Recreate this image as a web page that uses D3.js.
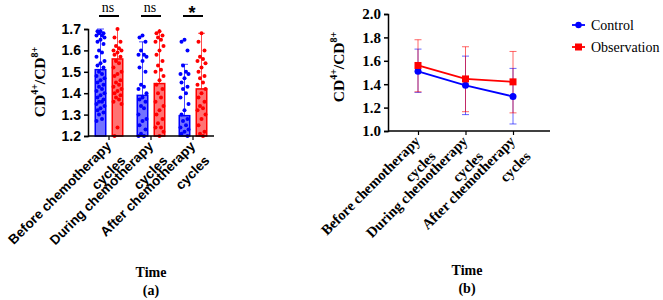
<!DOCTYPE html>
<html>
<head>
<meta charset="utf-8">
<script src="https://cdn.jsdelivr.net/npm/d3@7"></script>
<style>
  body { margin: 0; background: #fff; }
  svg { display: block; }
</style>
</head>
<body>
<svg id="chart" width="663" height="300"></svg>
<script>
// groups and series
const groups = ['Before chemotherapy|cycles', 'During chemotherapy|cycles', 'After chemotherapy|cycles']
const seriesNames = ['Control', 'Observation']
const colors = { Control: '#0000ff', Observation: '#ff0000' }

// means and SD ends
const controlMean = [1.51, 1.39, 1.295]
const controlHigh = [1.70, 1.64, 1.535]
const controlLow = [1.33, 1.14, 1.06]
const obsMean = [1.56, 1.445, 1.42]
const obsHigh = [1.78, 1.72, 1.68]
const obsLow = [1.335, 1.165, 1.155]

// individual points (panel a)
const controlPoints = [
  [1.69, 1.69, 1.68, 1.68, 1.67, 1.67, 1.66, 1.65, 1.64, 1.63, 1.60, 1.59, 1.57, 1.55, 1.54, 1.53, 1.52, 1.50, 1.49, 1.48, 1.47, 1.46, 1.45, 1.44, 1.43, 1.42, 1.41, 1.40, 1.39, 1.38, 1.37, 1.36, 1.36, 1.35, 1.34, 1.33, 1.32, 1.31, 1.30, 1.28, 1.27],
  [1.67, 1.66, 1.64, 1.60, 1.58, 1.58, 1.57, 1.55, 1.52, 1.50, 1.44, 1.43, 1.42, 1.40, 1.38, 1.37, 1.36, 1.34, 1.33, 1.30, 1.28, 1.27, 1.25, 1.23, 1.21, 1.20, 1.20],
  [1.65, 1.64, 1.60, 1.53, 1.50, 1.49, 1.49, 1.47, 1.45, 1.43, 1.42, 1.40, 1.38, 1.35, 1.32, 1.30, 1.28, 1.27, 1.25, 1.24, 1.23, 1.22, 1.21, 1.20]
]
const obsPoints = [
  [1.70, 1.66, 1.64, 1.62, 1.61, 1.60, 1.60, 1.59, 1.58, 1.57, 1.55, 1.54, 1.52, 1.50, 1.49, 1.48, 1.46, 1.45, 1.44, 1.43, 1.42, 1.41, 1.40, 1.39, 1.38, 1.37, 1.36, 1.35, 1.24, 1.20],
  [1.69, 1.68, 1.67, 1.66, 1.65, 1.64, 1.62, 1.60, 1.58, 1.55, 1.53, 1.51, 1.50, 1.48, 1.46, 1.44, 1.42, 1.40, 1.38, 1.36, 1.34, 1.32, 1.30, 1.28, 1.26, 1.24, 1.24, 1.22, 1.20],
  [1.68, 1.64, 1.60, 1.57, 1.56, 1.55, 1.54, 1.52, 1.50, 1.48, 1.47, 1.45, 1.44, 1.42, 1.40, 1.38, 1.36, 1.34, 1.33, 1.32, 1.30, 1.28, 1.25, 1.22, 1.21, 1.20]
]
const signif = ['ns', 'ns', '*']

const yTicksA = [1.2, 1.3, 1.4, 1.5, 1.6, 1.7]
const yTicksB = [1.0, 1.2, 1.4, 1.6, 1.8, 2.0]

const svg = d3.select('#chart')
const SANS = 'Arial, "Liberation Sans", sans-serif'
const SERIF = '"Times New Roman", "Liberation Serif", serif'

// y title with superscripts
function yTitle(g, x, y) {
  const t = g.append('text')
    .attr('transform', `translate(${x},${y}) rotate(-90)`)
    .attr('text-anchor', 'middle')
    .attr('font-family', SERIF)
    .attr('font-weight', 'bold')
    .attr('font-size', 15.5)
  t.append('tspan').text('CD')
  t.append('tspan').attr('font-size', 10).attr('dy', -7).text('4+')
  t.append('tspan').attr('dy', 7).text('/CD')
  t.append('tspan').attr('font-size', 10).attr('dy', -7).text('8+')
}

function xLabels(g, x, y0, font, size) {
  groups.forEach(d => {
    const parts = d.split('|')
    const t = g.append('text')
      .attr('transform', `translate(${x(d) + 3},${y0 + 11}) rotate(-45)`)
      .attr('text-anchor', 'end')
      .attr('font-family', font)
      .attr('font-weight', 'bold')
      .attr('font-size', size)
    t.append('tspan').attr('x', 0).attr('y', 0).text(parts[0])
    t.append('tspan').attr('x', 0).attr('y', 0).attr('dy', '1.5em').text(parts[1])
  })
}

// ---------- panel (a) ----------
{
  const g = svg.append('g')
  const x = d3.scaleBand().domain(groups).range([88, 214])
  const cx = d => x(d) + x.bandwidth() / 2
  const y = d3.scaleLinear().domain([1.2, 1.7]).range([136, 29])
  const clampY = v => y(Math.min(1.7, Math.max(1.2, v)))
  const barW = 10.5, off = 8.5

  const series = [
    { name: 'Control', mean: controlMean, high: controlHigh, pts: controlPoints, dx: -off },
    { name: 'Observation', mean: obsMean, high: obsHigh, pts: obsPoints, dx: off }
  ]

  series.forEach(s => {
    const col = colors[s.name]
    groups.forEach((gr, i) => {
      const bx = cx(gr) + s.dx
      g.append('rect')
        .attr('x', bx - barW / 2).attr('width', barW)
        .attr('y', y(s.mean[i])).attr('height', y(1.2) - y(s.mean[i]))
        .attr('fill', col).attr('fill-opacity', 0.55)
        .attr('stroke', col).attr('stroke-width', 1.5)
      // SD whisker
      g.append('line')
        .attr('x1', bx).attr('x2', bx)
        .attr('y1', y(s.mean[i])).attr('y2', clampY(s.high[i]))
        .attr('stroke', col).attr('stroke-width', 1).attr('stroke-opacity', 0.7)
      if (s.high[i] <= 1.7) {
        g.append('line')
          .attr('x1', bx - 3.5).attr('x2', bx + 3.5)
          .attr('y1', y(s.high[i])).attr('y2', y(s.high[i]))
          .attr('stroke', col).attr('stroke-width', 1).attr('stroke-opacity', 0.7)
      }
      const jit = [0, -3, 3, -1.5, 1.5, -4, 4]
      g.selectAll(null)
        .data(s.pts[i])
        .join('circle')
        .attr('cx', (d, j) => bx + jit[j % jit.length])
        .attr('cy', d => y(d))
        .attr('r', 2)
        .attr('fill', col)
    })
  })

  // axes
  const ya = g.append('g').attr('transform', 'translate(88,0)')
    .call(d3.axisLeft(y).tickValues(yTicksA).tickFormat(d3.format('.1f')).tickSize(4))
  ya.select('.domain').attr('stroke-width', 1.5)
  ya.selectAll('.tick line').attr('stroke-width', 1.5)
  ya.selectAll('text').attr('font-family', SANS).attr('font-weight', 'bold').attr('font-size', 14).attr('fill', '#000')

  const xa = g.append('g').attr('transform', 'translate(0,136)')
    .call(d3.axisBottom(x).tickSize(4).tickFormat(''))
  xa.select('.domain').attr('d', 'M88,0H214').attr('stroke-width', 1.5)
  xa.selectAll('.tick line').attr('stroke-width', 1.2)
  xLabels(g, cx, 136, SANS, 13.5)

  // significance
  groups.forEach((gr, i) => {
    g.append('line')
      .attr('x1', cx(gr) - 10).attr('x2', cx(gr) + 10)
      .attr('y1', 16).attr('y2', 16)
      .attr('stroke', '#000').attr('stroke-width', 2)
    g.append('text')
      .attr('x', cx(gr) - 1).attr('y', signif[i] === '*' ? 19 : 12)
      .attr('text-anchor', 'middle')
      .attr('font-family', signif[i] === '*' ? SANS : SERIF)
      .attr('font-weight', signif[i] === '*' ? 'bold' : 'normal')
      .attr('font-size', signif[i] === '*' ? 18 : 14)
      .text(signif[i])
  })

  yTitle(g, 45, 82)
  g.append('text').attr('x', 151).attr('y', 277).attr('text-anchor', 'middle')
    .attr('font-family', SERIF).attr('font-weight', 'bold').attr('font-size', 14).text('Time')
  g.append('text').attr('x', 151).attr('y', 295).attr('text-anchor', 'middle')
    .attr('font-family', SERIF).attr('font-weight', 'bold').attr('font-size', 14).text('(a)')
}

// ---------- panel (b) ----------
{
  const g = svg.append('g')
  const x = d3.scalePoint().domain(groups).range([418, 513])
  const y = d3.scaleLinear().domain([1.0, 2.0]).range([131, 14])

  const series = [
    { name: 'Control', mean: controlMean, high: controlHigh, low: controlLow },
    { name: 'Observation', mean: obsMean, high: obsHigh, low: obsLow }
  ]
  const line = d3.line().x((d, i) => x(groups[i])).y(d => y(d))

  series.forEach(s => {
    const col = colors[s.name]
    groups.forEach((gr, i) => {
      const ex = x(gr)
      g.append('line').attr('x1', ex).attr('x2', ex)
        .attr('y1', y(s.high[i])).attr('y2', y(s.low[i]))
        .attr('stroke', col).attr('stroke-width', 1).attr('stroke-opacity', 0.6)
      ;[s.high[i], s.low[i]].forEach(v => {
        g.append('line').attr('x1', ex - 3.5).attr('x2', ex + 3.5)
          .attr('y1', y(v)).attr('y2', y(v))
          .attr('stroke', col).attr('stroke-width', 1).attr('stroke-opacity', 0.6)
      })
    })
  })
  series.forEach(s => {
    const col = colors[s.name]
    g.append('path').datum(s.mean).attr('d', line)
      .attr('fill', 'none').attr('stroke', col).attr('stroke-width', 1.8)
    s.mean.forEach((v, i) => {
      if (s.name === 'Control') {
        g.append('circle').attr('cx', x(groups[i])).attr('cy', y(v)).attr('r', 3.5).attr('fill', col)
      } else {
        g.append('rect').attr('x', x(groups[i]) - 3.5).attr('y', y(v) - 3.5)
          .attr('width', 7).attr('height', 7).attr('fill', col)
      }
    })
  })

  const ya = g.append('g').attr('transform', 'translate(388,0)')
    .call(d3.axisLeft(y).tickValues(yTicksB).tickFormat(d3.format('.1f')).tickSize(4))
  ya.select('.domain').attr('stroke-width', 1.5)
  ya.selectAll('.tick line').attr('stroke-width', 1.5)
  ya.selectAll('text').attr('font-family', SERIF).attr('font-weight', 'bold').attr('font-size', 15).attr('fill', '#000')

  const xa = g.append('g').attr('transform', 'translate(0,131)')
    .call(d3.axisBottom(x).tickSize(4).tickFormat(''))
  xa.select('.domain').attr('d', 'M388,0H550').attr('stroke-width', 1.5)
  xa.selectAll('.tick line').attr('stroke-width', 1.2)
  xLabels(g, x, 131, SERIF, 14.5)

  yTitle(g, 344, 67)

  // legend
  const leg = g.append('g').attr('transform', 'translate(572,0)')
  series.forEach((s, i) => {
    const ly = 25 + i * 22
    const col = colors[s.name]
    leg.append('line').attr('x1', 0).attr('x2', 13).attr('y1', ly).attr('y2', ly)
      .attr('stroke', col).attr('stroke-width', 1.8)
    if (s.name === 'Control') leg.append('circle').attr('cx', 6.5).attr('cy', ly).attr('r', 3.2).attr('fill', col)
    else leg.append('rect').attr('x', 3).attr('y', ly - 3.5).attr('width', 7).attr('height', 7).attr('fill', col)
    leg.append('text').attr('x', 19).attr('y', ly + 5)
      .attr('font-family', SERIF).attr('font-size', 14).text(s.name)
  })

  g.append('text').attr('x', 467).attr('y', 275).attr('text-anchor', 'middle')
    .attr('font-family', SERIF).attr('font-weight', 'bold').attr('font-size', 14).text('Time')
  g.append('text').attr('x', 467).attr('y', 293).attr('text-anchor', 'middle')
    .attr('font-family', SERIF).attr('font-weight', 'bold').attr('font-size', 14).text('(b)')
}
</script>
</body>
</html>
